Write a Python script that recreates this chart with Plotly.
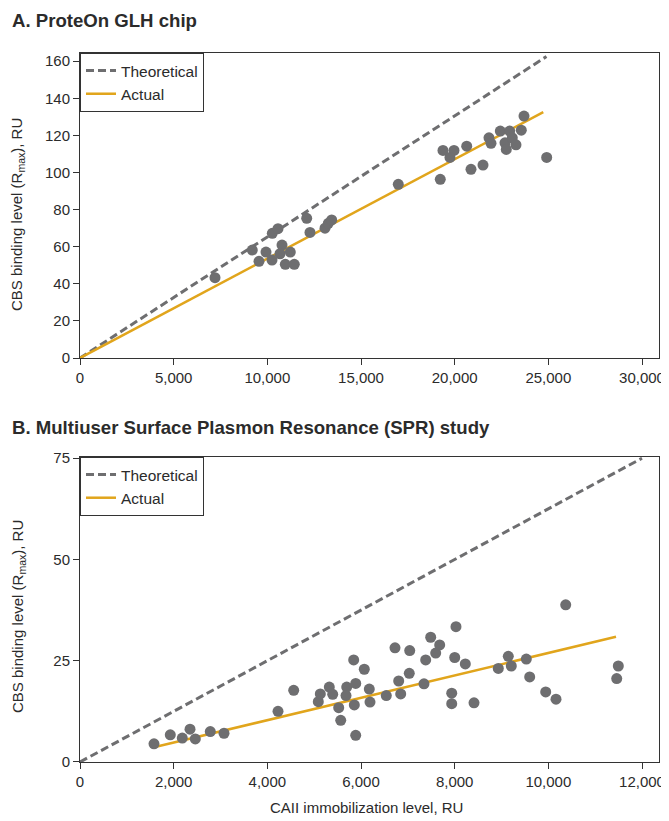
import plotly.graph_objects as go

# Panel A data (ProteOn GLH chip)
a_x = [7206, 9197, 9555, 9928, 10249, 10265, 10569, 10783, 10676, 11226, 10959, 11439,
       12101, 12277, 13078, 13254, 13436, 16990, 19232, 19376, 19964, 19750, 20642, 20871,
       21512, 21832, 21939, 22435, 22686, 22755, 22937, 23076, 23273, 23556, 23700, 24912]
a_y = [43.3, 58.2, 52.1, 57.1, 52.8, 67.2, 69.7, 60.9, 56.2, 57.1, 50.5, 50.5,
       75.3, 67.7, 70.0, 72.6, 74.4, 93.6, 96.3, 111.9, 111.9, 108.1, 114.2, 101.7,
       104.0, 118.7, 115.7, 122.3, 116.0, 112.4, 122.3, 118.7, 114.9, 122.8, 130.4, 108.1]
a_theo_x = [0, 24900]
a_theo_y = [0, 162.5]
a_act_x = [0, 24730]
a_act_y = [0, 132.5]
a_xticks = [0, 5000, 10000, 15000, 20000, 25000, 30000]
a_yticks = [0, 20, 40, 60, 80, 100, 120, 140, 160]

# Panel B data (Multiuser SPR study)
b_x = [1580, 1928, 2184, 2349, 2462, 2782, 3075, 4228, 4563, 5088, 5131, 5323, 5396,
       5524, 5567, 5695, 5680, 5844, 5887, 5857, 5887, 6070, 6177, 6192, 6540, 6726,
       6805, 6848, 7040, 7031, 7345, 7381, 7488, 7595, 7680, 7937, 7937, 8001, 8028,
       8227, 8413, 8932, 9145, 9209, 9530, 9602, 9944, 10164, 10371, 11494, 11460]
b_y = [4.5, 6.7, 5.9, 8.1, 5.7, 7.5, 7.1, 12.5, 17.7, 14.9, 16.8, 18.5, 16.7,
       13.4, 10.3, 18.5, 16.4, 25.2, 19.4, 14.1, 6.6, 22.9, 18.0, 14.8, 16.4, 28.2,
       20.0, 16.8, 27.5, 21.9, 19.3, 25.2, 30.8, 26.9, 28.9, 17.0, 14.4, 25.8, 33.4,
       24.2, 14.6, 23.1, 26.1, 23.7, 25.4, 21.0, 17.3, 15.5, 38.8, 23.7, 20.6]
b_theo_x = [0, 12000]
b_theo_y = [0, 75]
b_act_x = [1601, 11445]
b_act_y = [3.7, 30.9]
b_xticks = [0, 2000, 4000, 6000, 8000, 10000, 12000]
b_yticks = [0, 25, 50, 75]

GRAY = "#6e6e70"
GOLD = "#E1A51C"
FONT = "Liberation Sans, Arial, sans-serif"
TXT = "#2b2b2b"

fig = go.Figure()

for (xs, ys, tx, ty, ax, ay, xa, ya, leg) in [
    (a_x, a_y, a_theo_x, a_theo_y, a_act_x, a_act_y, "x", "y", "legend"),
    (b_x, b_y, b_theo_x, b_theo_y, b_act_x, b_act_y, "x2", "y2", "legend2"),
]:
    fig.add_trace(go.Scatter(x=tx, y=ty, mode="lines", name="Theoretical",
                             line=dict(color=GRAY, width=3, dash="8px,4px"),
                             xaxis=xa, yaxis=ya, legend=leg))
    fig.add_trace(go.Scatter(x=ax, y=ay, mode="lines", name="Actual",
                             line=dict(color=GOLD, width=2.5),
                             xaxis=xa, yaxis=ya, legend=leg))
    fig.add_trace(go.Scatter(x=xs, y=ys, mode="markers", showlegend=False,
                             marker=dict(color=GRAY, size=11, line=dict(width=0)),
                             xaxis=xa, yaxis=ya, cliponaxis=False))

axis_common = dict(showline=True, mirror=True, linecolor="#333", linewidth=1,
                   ticks="outside", ticklen=6, tickcolor="#333", showgrid=False,
                   zeroline=False, automargin=False,
                   tickfont=dict(family=FONT, size=15, color=TXT))

legend_common = dict(xanchor="left", yanchor="top", bgcolor="white",
                     bordercolor="#333", borderwidth=1,
                     font=dict(family=FONT, size=15.5, color=TXT),
                     tracegroupgap=0, itemwidth=30)

fig.update_layout(
    width=669, height=821,
    margin=dict(l=72, r=18, t=45, b=67, autoexpand=False),
    plot_bgcolor="white", paper_bgcolor="white",
    font=dict(family=FONT, color=TXT),
    xaxis=dict(domain=[0, 1], range=[0, 30907], tickvals=a_xticks, tickformat=",",
               anchor="y", **axis_common),
    yaxis=dict(domain=[0.5698, 1], range=[0, 164.4], tickvals=a_yticks,
               anchor="x", **axis_common),
    xaxis2=dict(domain=[0, 1], range=[0, 12363], tickvals=b_xticks, tickformat=",",
                anchor="y2", **axis_common),
    yaxis2=dict(domain=[0, 0.4302], range=[0, 75.3], tickvals=b_yticks,
                anchor="x2", **axis_common),
    legend=dict(x=0, y=1, **legend_common),
    legend2=dict(x=0, y=0.4302, **legend_common),
    showlegend=True,
)

annots = [
    dict(text="<b>A. ProteOn GLH chip</b>", x=(10 - 80) / 579, y=1 + (53 - 20) / 709,
         xanchor="left", yanchor="middle", font=dict(size=18.6)),
    dict(text="<b>B. Multiuser Surface Plasmon Resonance (SPR) study</b>",
         x=(10 - 80) / 579, y=(762 - 427) / 709,
         xanchor="left", yanchor="middle", font=dict(size=18.6)),
    dict(text="CBS binding level (R<sub>max</sub>), RU", x=(18 - 80) / 579,
         y=1 - (215 - 53) / 709, textangle=-90, xanchor="center", yanchor="middle",
         font=dict(size=15)),
    dict(text="CBS binding level (R<sub>max</sub>), RU", x=(18 - 80) / 579,
         y=(762 - 617) / 709, textangle=-90, xanchor="center", yanchor="middle",
         font=dict(size=15)),
    dict(text="CAII immobilization level, RU", x=(366 - 80) / 579,
         y=(762 - 808) / 709, xanchor="center", yanchor="middle",
         font=dict(size=15)),
]
for a in annots:
    fig.add_annotation(xref="paper", yref="paper", showarrow=False,
                       font_family=FONT, font_color=TXT, **{k: v for k, v in a.items()})

fig.write_html("out.html")
